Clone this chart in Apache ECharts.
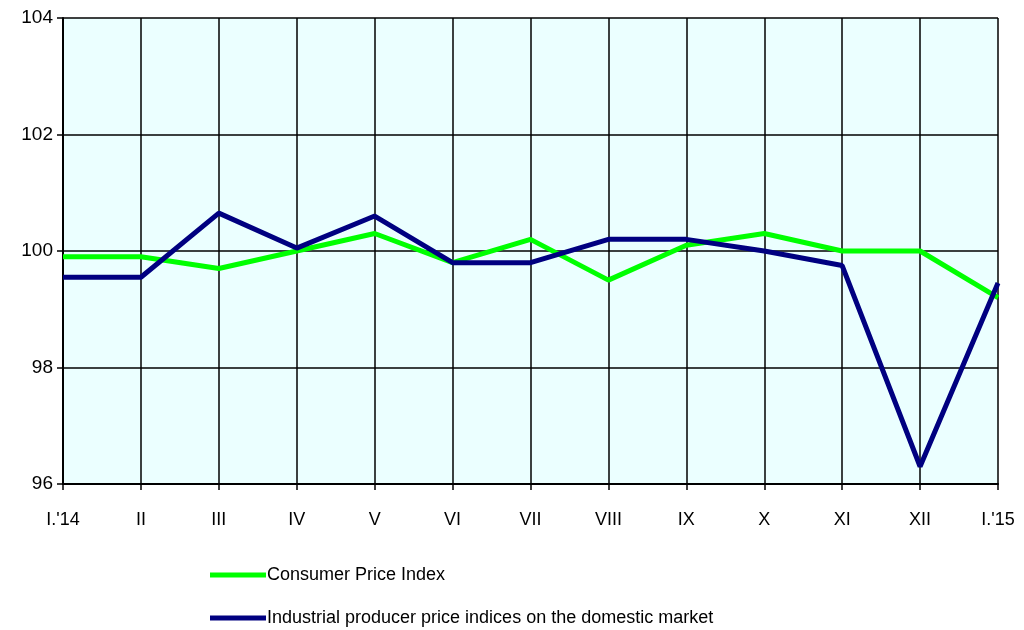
<!DOCTYPE html>
<html>
<head>
<meta charset="utf-8">
<script src="https://cdn.jsdelivr.net/npm/echarts@6/dist/echarts.min.js"></script>
<style>
  html, body { margin: 0; padding: 0; background: #fff; }
  #chart { width: 1024px; height: 630px; }
</style>
</head>
<body>
<div id="chart"></div>
<script>
// data
const months = ["I.'14", "II", "III", "IV", "V", "VI", "VII", "VIII", "IX", "X", "XI", "XII", "I.'15"];
const cpi = [99.9, 99.9, 99.7, 100.0, 100.3, 99.8, 100.2, 99.5, 100.1, 100.3, 100.0, 100.0, 99.2];
const ppi = [99.55, 99.55, 100.65, 100.05, 100.6, 99.8, 99.8, 100.2, 100.2, 100.0, 99.75, 96.3, 99.45];
const names = ["Consumer Price Index", "Industrial producer price indices on the domestic market"];

const fontName = "'Liberation Sans', sans-serif";

// one legend per row, like the original
function legendRow(name, top) {
  return {
    left: 210,
    top: top,
    padding: 0,
    itemWidth: 56,
    itemHeight: 5,
    icon: "rect",
    textStyle: { color: "#000", fontSize: 18, fontFamily: fontName, padding: [0, 0, 0, -4] },
    data: [name]
  };
}

let myChart = echarts.init(document.getElementById("chart"));
myChart.setOption({
  animation: false,
  grid: {
    left: 63,
    right: 26,
    top: 18,
    bottom: 146,
    show: true,
    backgroundColor: "#ebffff",
    borderWidth: 0
  },
  xAxis: {
    type: "category",
    data: months,
    boundaryGap: false,
    axisLine: { lineStyle: { color: "#000", width: 2 } },
    axisTick: { show: true, length: 6, lineStyle: { color: "#000", width: 1.5 } },
    axisLabel: { color: "#000", fontSize: 18, fontFamily: fontName, margin: 27 },
    splitLine: { show: true, lineStyle: { color: "#000", width: 1.5 } }
  },
  yAxis: {
    type: "value",
    min: 96,
    max: 104,
    interval: 2,
    axisLine: { show: true, lineStyle: { color: "#000", width: 2 } },
    axisTick: { show: true, length: 6, lineStyle: { color: "#000", width: 1.5 } },
    axisLabel: { color: "#000", fontSize: 19, fontFamily: fontName, margin: 10 },
    splitLine: { show: true, lineStyle: { color: "#000", width: 1.5 } }
  },
  legend: [legendRow(names[0], 566), legendRow(names[1], 609)],
  series: [
    {
      name: names[0],
      type: "line",
      data: cpi,
      symbol: "none",
      lineStyle: { color: "#00ff00", width: 5 },
      itemStyle: { color: "#00ff00" },
      z: 3
    },
    {
      name: names[1],
      type: "line",
      data: ppi,
      symbol: "none",
      lineStyle: { color: "#000080", width: 5 },
      itemStyle: { color: "#000080" },
      z: 4
    }
  ]
});
</script>
</body>
</html>
